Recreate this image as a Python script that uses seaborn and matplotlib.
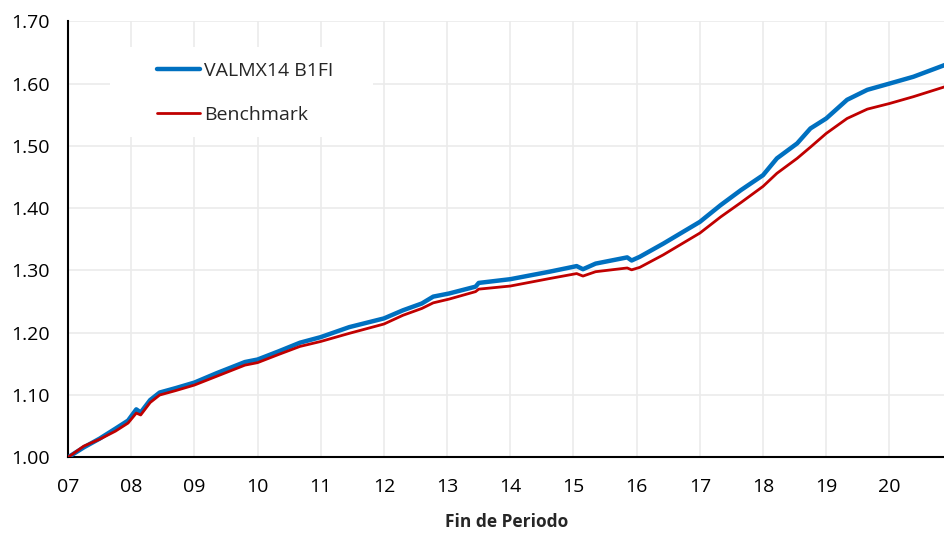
import pandas as pd
import numpy as np
import seaborn as sns
import matplotlib.pyplot as plt
from matplotlib.patches import Rectangle

# values (x in decimal years)
fechas = [2007.00, 2007.25, 2007.50, 2007.75, 2007.95, 2008.08, 2008.15, 2008.30,
          2008.45, 2008.70, 2009.00, 2009.35, 2009.80, 2010.00, 2010.33, 2010.67,
          2011.00, 2011.45, 2012.00, 2012.30, 2012.60, 2012.78, 2013.03, 2013.45,
          2013.50, 2014.00, 2014.62, 2015.05, 2015.15, 2015.35, 2015.85, 2015.92,
          2016.05, 2016.42, 2017.00, 2017.33, 2017.65, 2018.00, 2018.22, 2018.54,
          2018.75, 2019.00, 2019.33, 2019.65, 2020.00, 2020.38, 2020.88]

valmx = [1.000, 1.016, 1.030, 1.046, 1.059, 1.077, 1.072, 1.092,
         1.104, 1.111, 1.120, 1.135, 1.153, 1.157, 1.170, 1.184,
         1.193, 1.209, 1.223, 1.236, 1.247, 1.258, 1.263, 1.274,
         1.280, 1.286, 1.298, 1.307, 1.302, 1.311, 1.321, 1.316,
         1.322, 1.343, 1.378, 1.405, 1.429, 1.453, 1.480, 1.504,
         1.528, 1.544, 1.574, 1.590, 1.600, 1.611, 1.630]

benchmark = [1.000, 1.018, 1.029, 1.042, 1.055, 1.071, 1.068, 1.088,
             1.100, 1.107, 1.116, 1.130, 1.148, 1.152, 1.165, 1.178,
             1.186, 1.199, 1.214, 1.228, 1.239, 1.248, 1.254, 1.266,
             1.270, 1.275, 1.287, 1.295, 1.291, 1.298, 1.304, 1.301,
             1.305, 1.325, 1.360, 1.386, 1.409, 1.435, 1.456, 1.480,
             1.498, 1.520, 1.544, 1.559, 1.568, 1.579, 1.595]

anios = list(range(2007, 2021))
etiquetas = ['%02d' % (a % 100) for a in anios]
yticks = [1.00, 1.10, 1.20, 1.30, 1.40, 1.50, 1.60, 1.70]

df = pd.DataFrame({'fecha': fechas, 'VALMX14 B1FI': valmx, 'Benchmark': benchmark})

sns.set_style('white')
plt.rcParams['font.family'] = ['Open Sans', 'DejaVu Sans']

fig = plt.figure(figsize=(9.45, 5.33), dpi=100)
ax = fig.add_axes([0.072, 0.142, 0.928, 0.818])

sns.lineplot(data=df, x='fecha', y='VALMX14 B1FI', ax=ax, color='#0070C0',
             linewidth=3.2, label='VALMX14 B1FI', zorder=3)
sns.lineplot(data=df, x='fecha', y='Benchmark', ax=ax, color='#C00000',
             linewidth=2.0, label='Benchmark', zorder=3)

ax.set_xlim(2007, 2020.88)
ax.set_ylim(1.0, 1.7)
ax.set_xticks(anios)
ax.set_xticklabels(etiquetas)
ax.set_yticks(yticks)
ax.set_yticklabels(['%.2f' % v for v in yticks])
ax.tick_params(axis='both', length=0, labelsize=14, colors='#000000')
ax.tick_params(axis='y', pad=13)
ax.tick_params(axis='x', pad=15)

ax.grid(True, color='#EBEBEB', linewidth=1.2)
ax.set_axisbelow(True)
for s in ['top', 'right']:
    ax.spines[s].set_visible(False)
for s in ['left', 'bottom']:
    ax.spines[s].set_color('black')
    ax.spines[s].set_linewidth(1.5)

ax.set_ylabel('')
ax.set_xlabel('Fin de Periodo', fontsize=12.5, fontweight='bold', labelpad=12)

# white box behind the legend (hides the grid there)
ax.add_patch(Rectangle((0.048, 0.735), 0.300, 0.206, transform=ax.transAxes,
                       facecolor='white', edgecolor='none', zorder=1.5))

leg = ax.legend(loc='upper left', bbox_to_anchor=(0.1015, 0.906), fontsize=14,
                frameon=False, handlelength=2.2, handletextpad=0.2,
                labelspacing=1.3, borderpad=0, borderaxespad=0)

fig.savefig('out.png', dpi=100)
